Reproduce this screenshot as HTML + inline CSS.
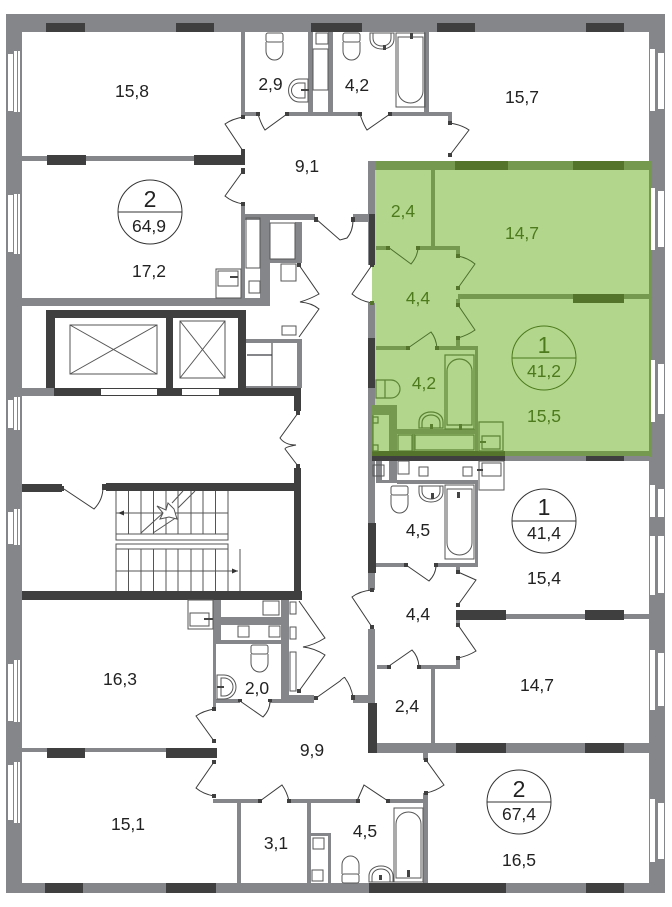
<!DOCTYPE html>
<html><head><meta charset="utf-8"><style>
html,body{margin:0;padding:0;background:#fff}
svg{display:block}
text{font-family:"Liberation Sans",sans-serif;font-size:17.5px;text-anchor:middle;fill:#222}
.g text,text.g{fill:#4d7a1c}
.big{font-size:23px}
.o{fill:none;stroke:#555;stroke-width:1}
.l{fill:none;stroke:#3a3a3a;stroke-width:1}
.go{fill:none;stroke:#5d8435;stroke-width:1.2}
</style></head><body>
<svg width="672" height="907" viewBox="0 0 672 907" xmlns="http://www.w3.org/2000/svg">
<defs>
<g id="toilet"><rect x="0" y="0" width="17" height="9" rx="2"/><path d="M0 9V18a8.5 9 0 0 0 17 0V9"/></g>
<g id="sink"><path d="M0 0v6c0 6 5 10 12 10s12-4 12-10v-6z"/><path d="M3 0v5c0 5 4 8 9 8s9-3 9-8v-5"/></g>
<g id="bath"><rect x="0" y="0" width="29" height="74"/><path d="M2 4H27V58a12.500 12 0 0 1-25 0z"/></g>
</defs>

<!-- green unit fill -->
<path fill="#b1d68c" d="M375 161H652V457H372V265H375z"/>

<!-- grey walls -->
<path fill="#85868a" d="M6 14h659v18H6zM6 14h16v879H6zM649 14h16v879h-16zM6 883h659v10H6z
M22 156h223v5H22zM241 32h4v85h-4zM245 112h13v4h-13zM288 112h72v4h-72zM390 112h62v4h-62zM448 112h4v11h-4zM308 32h5v80h-5zM328 32h5v80h-5zM424 32h5v80h-5z
M241 204h4v94h-4zM241 214h74v6h-74zM260 214h10v84h-10zM22 298h248v8H22zM295 222h7v38h-7zM270 259h32v4h-32z
M353 214h15v8h-15zM368 161h7v104h-7zM368 303h7v35h-7z
M22 388h32v8H22zM246 339h54v4h-54zM297 339h5v49h-5zM246 386h54v2h-54zM247 354h25v2h-25z
M213 600h8v40h-8zM213 640h3v69h-3zM216 617h72v8h-72zM216 640h72v4h-72zM281 600h8v100h-8zM216 699h24v4h-24zM270 699h44v4h-44zM281 695h33v8h-33zM353 695h15v8h-15z
M22 748h191v4H22zM213 799h47v4h-47zM289 799h69v4h-69zM388 799h40v4h-40zM423 799h5v84h-5zM237 803h4v80h-4zM307 803h4v80h-4zM311 833h20v3h-20zM328 833h3v50h-3z
M377 743h272v10H377zM431 669h4v74h-4zM377 665h12v4h-12zM419 665h41v4h-41zM456 658h4v11h-4zM368 629h7v74h-7zM456 614h193v5H456zM456 619h4v6h-4z
M423 753h5v7h-5zM423 793h5v7h-5z
M368 338h7v252h-7zM376 563h30v4h-30zM436 563h42v4h-42zM475 482h3v85h-3zM397 480h81v4h-81zM376 455h6v28h-6zM389 460h8v23h-8zM376 480h21v3h-21zM505 456h144v5H505zM456 565h4v8h-4z"/>

<!-- green walls -->
<path fill="#74994f" d="M375 161h277v9H375zM649 161h3v296h-3zM431 170h4v77h-4zM376 246h12v4h-12zM418 246h42v4h-42zM456 246h4v11h-4zM458 294h191v5H458zM456 299h4v6h-4zM456 338h4v10h-4zM376 346h32v4h-32zM437 346h41v4h-41zM475 346h3v105h-3zM397 429h81v5h-81zM372 405h25v46h-25zM505 451h147v5H505zM412 434h3v18h-3zM389 415h8v36h-8z"/>
<path fill="#b1d68c" d="M373 415h16v36h-16zM398 435h14v16h-14zM415 435h59v15h-59z"/>
<path class="go" d="M373 451V415M398 435h14v16h-14zM415 435h59v15h-59z"/>

<!-- dark green -->
<path fill="#54742b" d="M455 161h53v9h-53zM573 161h51v9h-51zM573 294h51v9h-51zM372 451h133v5H372z"/>

<!-- dark walls -->
<path fill="#3f3f40" d="M46 23h39v9H46zM176 23h38v9h-38zM311 23h51v9h-51zM437 23h38v9h-38zM586 23h38v9h-38z
M47 155h39v10H47zM194 155h51v10h-51z
M369 214h6v51h-6zM368 338h7v50h-7zM368 523h8v50h-8z
M46 310h200v8H46zM46 310h9v78h-9zM166 318h7v70h-7zM238 318h8v70h-8zM54 388h247v8H54zM294 396h7v15h-7zM294 468h7v132h-7z
M22 484h40v8H22zM106 483h188v8H106zM22 591h280v9H22z
M47 748h38v10H47zM166 748h51v10h-51z
M45 883h38v10H45zM166 883h50v10h-50zM369 883h137v10H369zM586 883h38v10h-38z
M368 703h9v50h-9zM456 743h50v10h-50zM585 743h39v10h-39zM456 610h50v10h-50zM585 610h39v10h-39z
M372 456h133v5H372zM586 456h38v5h-38z"/>

<!-- left windows -->
<g fill="#fff">
<path d="M8 54h5v57H8zM14 51h3v61h-3zM18 51h2v61h-2z
M8 195h5v57H8zM14 194h3v60h-3zM18 194h2v60h-2z
M8 400h5v28H8zM14 397h3v33h-3zM18 397h2v33h-2z
M8 512h5v32H8zM14 509h3v36h-3zM18 509h2v36h-2z
M8 664h5v57H8zM14 660h3v62h-3zM18 660h2v62h-2z
M8 765h5v55H8zM14 762h3v61h-3zM18 762h2v61h-2z"/>
<!-- right windows -->
<path d="M650 49h5v62h-5zM658 53h6v56h-6z
M651 188h4v62h-4zM658 191h6v56h-6z
M651 360h4v62h-4zM658 364h6v50h-6z
M650 485h5v32h-5zM658 489h6v28h-6z
M650 536h5v59h-5zM658 536h6v57h-6z
M650 650h5v60h-5zM658 653h6v53h-6z
M650 799h5v63h-5zM658 803h6v56h-6z"/>
<!-- elevator doors -->
<path d="M101 389h56v6h-56zM182 389h37v6h-37z"/>
</g>

<!-- elevators -->
<g class="o">
<path d="M70 325h87v49H70zM70 325l87 49M157 325l-87 49M180 321h45v57h-45zM180 321l45 57M225 321l-45 57"/>
<path d="M272 343v43" stroke="#333"/>
</g>

<!-- stairs -->
<g class="o" stroke-width="1">
<path d="M116 491v43M128.500 491v43M141 491v43M153.500 491v43M166 491v43M178 491v43M191 491v43M203 491v43M215.500 491v43M228 491v43"/>
<path d="M116 534h112v6H116zM116 544h112v5H116z"/>
<path d="M116 549v42M128.500 549v42M141 549v42M153.500 549v42M166 549v42M178 549v42M191 549v42M203 549v42M215.500 549v42M228 549v42M240 549v42"/>
<path d="M116 513h112M116 571h122"/>
<path d="M141 533L163 513M153 533L177 517M172 503L183 491M178 508L195 491"/>
<path fill="#fff" d="M157 506l6 7-3 6 9-2 8 2-3-10-6-6-2 7z"/>
</g>
<path fill="#333" d="M118 513l6-2.500v5zM238 571l-6-2.500v5z"/>

<!-- door leaves -->
<g class="l">
<path d="M243 117Q232 119 225 124L243 151M243 171L225 196Q232 202 243 204"/>
<path d="M258 114Q261 124 265 130L287 114M360 114Q363 124 367 130L390 114"/>
<path d="M450 123Q462 125 469 130L450 155"/>
<path d="M353 220Q353 231 347 238L340 240L316 219"/>
<path d="M299 265L319 294Q310 299 300 302Q312 303 319 309L299 337"/>
<path d="M298 413L280 438Q285 445 296 445Q285 447 285 449L298 466"/>
<path d="M64 489L94 509Q103 500 103 487"/>
<path d="M299 601L325 638Q314 645 303 647Q314 648 325 655L299 691"/>
<path d="M316 698L340 681Q345 676 345 678Q351 686 353 697"/>
<path d="M240 701L263 717Q270 710 270 701"/>
<path d="M214 709Q203 711 196 716L214 741M214 762L196 788Q203 794 214 796"/>
<path d="M260 801L282 785Q287 792 289 801M357 801L364 785L388 801"/>
<path d="M426 760L444 785Q436 791 426 793"/>
<path d="M372 627L352 597Q360 591 372 590"/>
<path d="M458 572L476 580L458 605M406 565L429 581Q436 574 436 565"/>
<path d="M458 625L476 651Q468 656 458 658M389 666L412 650Q418 656 419 666"/>
<path d="M372 265L352 294Q360 301 372 303"/>
</g>
<g fill="none" stroke="#4d6f2b">
<path d="M388 247L411 264Q418 256 418 247M458 256Q468 258 475 264L458 288M458 305L475 330Q468 335 458 338M408 348L431 332Q436 338 437 348"/>
</g>

<!-- hinges -->
<path fill="#3f3f40" d="M241 115h4v4h-4zM241 149h4v6h-4zM241 168h4v6h-4zM241 202h4v4h-4zM256 112h4v4h-4zM285 112h4v4h-4zM358 112h4v4h-4zM388 112h4v4h-4zM448 121h4v4h-4zM448 153h4v4h-4zM314 217h4v5h-4zM351 217h4v5h-4zM297 263h4v4h-4zM296 411h4v4h-4zM296 464h4v4h-4zM60 486h4v5h-4zM102 484h4v6h-4zM297 689h4v4h-4zM314 696h4v4h-4zM238 699h4v3h-4zM268 699h4v3h-4zM212 707h4v4h-4zM212 739h4v4h-4zM212 760h4v4h-4zM212 794h4v4h-4zM258 799h4v4h-4zM287 799h4v4h-4zM356 799h4v4h-4zM386 799h4v4h-4zM424 758h4v4h-4zM424 791h4v4h-4zM370 625h4v4h-4zM456 570h4v4h-4zM456 603h4v4h-4zM404 563h4v4h-4zM434 563h4v4h-4zM456 623h4v4h-4zM456 656h4v4h-4zM387 665h4v4h-4zM417 665h4v4h-4zM351 695h4v5h-4zM370 588h4v4h-4z"/>
<path fill="#54742b" d="M386 246h4v4h-4zM416 246h4v4h-4zM456 254h4v4h-4zM456 286h4v4h-4zM456 303h4v4h-4zM456 336h4v4h-4zM406 346h4v4h-4zM435 346h4v4h-4zM370 301h4v4h-4z"/>
<path fill="#3f3f40" d="M370 263h4v4h-4z"/>

<!-- furniture -->
<g class="o" fill="#fff">
<use href="#toilet" x="266" y="33"/>
<use href="#toilet" x="343" y="33"/>
<use href="#sink" x="370" y="33"/>
<use href="#bath" x="396" y="33"/>
<path d="M316 33h12v11h-12zM313 49h15v41h-15z"/>
<path d="M308 79h-9a10 11 0 0 0 0 23h9zM305 83h-6a7 7 0 0 0 0 15h6z"/>
<path d="M246 218h14v50h-14zM249 281h11v12h-11zM216 269h25v29h-25zM218 271h20v15h-20z"/>
<path d="M270 223h25v36h-25z"/>
<path d="M281 264h15v17h-15zM282 326h14v9h-14z"/>
<path d="M188 600h25v29h-25zM190 613h19v13h-19z"/>
<path d="M263 601h16v14h-16zM238 626h11v11h-11zM269 626h11v11h-11z"/>
<path d="M290 602h6v12h-6zM290 627h6v12h-6zM290 652h6v39h-6z"/>
<use href="#toilet" x="251" y="645"/>
<path d="M217 675h7a12 12 0 0 1 0 24h-7zM221 678h3a9 9 0 0 1 0 18h-3z"/>
<path d="M313 838h11v11h-11zM312 870h11v11h-11z"/>
<g transform="translate(394,882) scale(1,-1)"><use href="#bath" x="0" y="0"/></g>
<g transform="translate(342,883) scale(1,-1)"><use href="#toilet" x="0" y="0"/></g>
<g transform="translate(369,882) scale(1,-1)"><use href="#sink" x="0" y="0"/></g>
<path d="M373 465h11v11h-11zM398 461h11v13h-11zM419 467h9v9h-9zM463 467h9v9h-9zM479 461h25v29h-25zM482 463h19v13h-19z"/>
<use href="#toilet" x="391" y="486"/>
<use href="#sink" x="419" y="486"/>
<use href="#bath" x="445" y="485"/>
</g>
<g class="go">
<path d="M376 380h15a9 9 0 0 1 0 18h-15zM376 380h9v18h-9z"/>
<use href="#sink" transform="translate(443,428) rotate(180)"/>
<g transform="translate(445,429) scale(1,-1)"><use href="#bath" x="0" y="0"/></g>
<path d="M373 417h5v6h-5zM373 445h5v6h-5zM479 422h24v29h-24zM482 436h18v13h-18z"/>
</g>
<path fill="#444" d="M301 89h8v2h-8zM230 276h8v2h-8zM204 618h9v2h-9zM217 686h7v2h-7zM383 45h3v5h-3zM410 33h3v6h-3zM431 499h3v-6h-3zM457 492h3v6h-3zM483 469h-6v2h6zM379 875h3v5h-3zM407 870h3v7h-3z"/>
<path fill="#5a7f2f" d="M430 424h3v5h-3zM459 424h3v6h-3zM486 441h-6v2h6z"/>

<!-- circles -->
<g fill="none" stroke="#333" stroke-width="1">
<circle cx="150" cy="212" r="32"/><path d="M118 212h64"/>
<circle cx="544" cy="521" r="32"/><path d="M512 521h64"/>
<circle cx="519" cy="802" r="32"/><path d="M487 802h64"/>
</g>
<g fill="none" stroke="#4d7a1c" stroke-width="1">
<circle cx="544" cy="358" r="32"/><path d="M512 358h64"/>
</g>

<!-- labels -->
<text x="132" y="97">15,8</text>
<text x="270.500" y="90">2,9</text>
<text x="357" y="91">4,2</text>
<text x="522" y="103">15,7</text>
<text x="307" y="172">9,1</text>
<text x="150" y="207" class="big">2</text>
<text x="149" y="232">64,9</text>
<text x="149" y="277">17,2</text>
<g class="g">
<text x="403" y="217">2,4</text>
<text x="522" y="239">14,7</text>
<text x="418" y="304">4,4</text>
<text x="544" y="353" class="big">1</text>
<text x="544" y="377">41,2</text>
<text x="424" y="389">4,2</text>
<text x="544" y="422">15,5</text>
</g>
<text x="418" y="536">4,5</text>
<text x="544" y="515" class="big">1</text>
<text x="544" y="539">41,4</text>
<text x="544" y="584">15,4</text>
<text x="418" y="620">4,4</text>
<text x="537" y="691">14,7</text>
<text x="407" y="712">2,4</text>
<text x="257" y="694">2,0</text>
<text x="120" y="685">16,3</text>
<text x="312" y="756">9,9</text>
<text x="128" y="830">15,1</text>
<text x="276" y="849">3,1</text>
<text x="365" y="837">4,5</text>
<text x="519" y="797" class="big">2</text>
<text x="519" y="820">67,4</text>
<text x="519" y="866">16,5</text>
</svg>
</body></html>
